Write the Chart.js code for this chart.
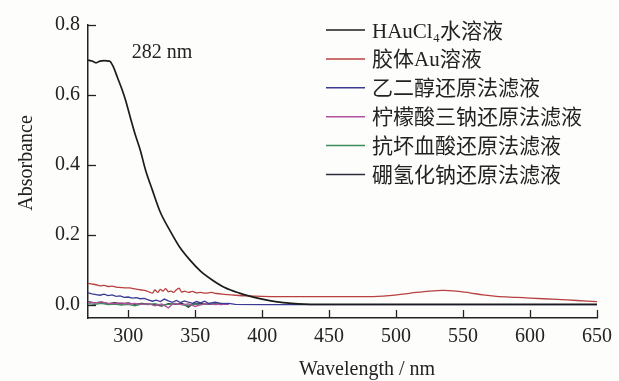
<!DOCTYPE html>
<html>
<head>
<meta charset="utf-8">
<script src="https://cdn.jsdelivr.net/npm/chart.js@4.4.0/dist/chart.umd.min.js"></script>
<style>
  html, body { margin: 0; padding: 0; background: #fdfdfb; }
  #wrap { width: 619px; height: 381px; }
</style>
</head>
<body>
<div id="wrap"><canvas id="chart" width="619" height="381"></canvas></div>
<script>
// series names (legend)
const seriesNames = ['HAuCl₄水溶液', '胶体Au溶液', '乙二醇还原法滤液', '柠檬酸三钠还原法滤液', '抗坏血酸还原法滤液', '硼氢化钠还原法滤液'];
const seriesColors = ['#1c1c1c', '#b8403f', '#3b3b95', '#b4529f', '#3d8a5a', '#2c2c3a'];

// HAuCl4 solution
const wlHAuCl4 = [270, 273, 276, 279, 282, 286, 289, 292, 295, 298, 302, 305, 309, 313, 318, 324, 331, 338, 346, 354, 363, 372, 383, 392, 400, 410, 422, 440, 500, 560, 650];
const absHAuCl4 = [0.700, 0.697, 0.692, 0.697, 0.698, 0.697, 0.680, 0.650, 0.620, 0.586, 0.530, 0.490, 0.443, 0.385, 0.329, 0.265, 0.214, 0.168, 0.129, 0.097, 0.071, 0.050, 0.034, 0.024, 0.017, 0.010, 0.005, 0.002, 0.002, 0.002, 0.002];

// colloidal Au
const wlColloid = [270, 273, 276, 279, 282, 285, 288, 291, 295, 298, 301, 304, 307, 310, 313, 316, 318, 320, 322, 324, 326, 328, 330, 332, 334, 336, 338, 340, 342, 345, 348, 351, 354, 358, 362, 366, 370, 380, 390, 400, 420, 450, 480, 495, 505, 515, 525, 535, 545, 555, 565, 575, 590, 600, 620, 635, 650];
const absColloid = [0.062, 0.060, 0.058, 0.055, 0.056, 0.053, 0.054, 0.051, 0.050, 0.049, 0.049, 0.047, 0.045, 0.043, 0.041, 0.037, 0.034, 0.043, 0.036, 0.045, 0.040, 0.047, 0.038, 0.040, 0.036, 0.044, 0.048, 0.037, 0.040, 0.036, 0.039, 0.035, 0.036, 0.034, 0.036, 0.033, 0.031, 0.028, 0.026, 0.025, 0.024, 0.024, 0.024, 0.027, 0.031, 0.036, 0.040, 0.042, 0.040, 0.035, 0.029, 0.025, 0.022, 0.020, 0.016, 0.013, 0.010];

// ethylene glycol reduction filtrate
const wlGlycol = [270, 273, 276, 279, 282, 285, 288, 291, 294, 297, 300, 303, 306, 309, 312, 315, 318, 321, 324, 327, 330, 333, 336, 339, 342, 345, 348, 351, 354, 357, 360, 365, 370, 375, 380, 400, 450, 500, 550, 600, 650];
const absGlycol = [0.035, 0.032, 0.030, 0.028, 0.031, 0.027, 0.029, 0.025, 0.026, 0.022, 0.023, 0.020, 0.021, 0.018, 0.019, 0.015, 0.011, 0.014, 0.010, 0.017, 0.012, 0.008, 0.013, 0.007, 0.012, 0.008, 0.005, 0.010, 0.006, 0.011, 0.005, 0.008, 0.004, 0.005, 0.002, 0.001, 0.001, 0.001, 0.001, 0.001, 0.001];

// trisodium citrate reduction filtrate
const wlCitrate = [270, 275, 280, 285, 290, 295, 300, 305, 310, 315, 320, 325, 330, 333, 336, 340, 345, 350, 355, 360, 365, 370, 375];
const absCitrate = [0.008, 0.006, 0.009, 0.005, 0.004, 0.006, 0.003, 0.005, 0.002, 0.004, -0.002, 0.003, -0.008, 0.002, 0.004, 0.001, 0.003, -0.004, 0.002, 0.004, 0.001, 0.003, 0.002];

// ascorbic acid reduction filtrate
const wlAscorbic = [270, 275, 280, 285, 290, 295, 300, 305, 310, 315, 320, 325, 330, 335, 340, 345, 350, 355, 360, 365, 370, 375];
const absAscorbic = [0.004, 0.002, 0.005, 0.001, 0.003, 0.000, 0.002, -0.002, 0.003, 0.001, 0.004, -0.001, 0.002, 0.005, 0.001, -0.002, 0.003, 0.001, 0.004, 0.002, 0.005, 0.003];

// sodium borohydride reduction filtrate
const wlBorohydride = [270, 275, 280, 285, 290, 295, 300, 305, 310, 315, 320, 325, 330, 335, 340, 345, 348, 355, 360, 365, 370];
const absBorohydride = [0.010, 0.006, 0.008, 0.004, 0.007, 0.003, 0.006, 0.002, 0.005, 0.003, 0.001, -0.003, 0.004, 0.002, 0.005, -0.006, 0.003, 0.004, 0.002, 0.003, 0.001];

const xTicks = [300, 350, 400, 450, 500, 550, 600, 650];
const yTicks = [0.0, 0.2, 0.4, 0.6, 0.8];
const peakLabel = '282 nm';
const xTitle = 'Wavelength / nm';
const yTitle = 'Absorbance';

const serif = "'Liberation Serif', 'Times New Roman', serif";
const legendFont = "21px 'Liberation Serif', 'Noto Sans CJK SC', serif";

function pts(xs, ys) {
  return xs.map((x, i) => ({ x: x, y: ys[i] }));
}

const allX = [wlHAuCl4, wlColloid, wlGlycol, wlCitrate, wlAscorbic, wlBorohydride];
const allY = [absHAuCl4, absColloid, absGlycol, absCitrate, absAscorbic, absBorohydride];

const datasets = seriesNames.map((name, i) => ({
  label: name,
  data: pts(allX[i], allY[i]),
  borderColor: seriesColors[i],
  borderWidth: i === 0 ? 1.7 : 1.3,
  pointRadius: 0,
  fill: false,
  cubicInterpolationMode: i < 2 ? 'monotone' : 'default',
  tension: 0
}));

// ticks pointing inwards, text labels, legend
const decor = {
  id: 'decor',
  afterDraw(chart) {
    const ctx = chart.ctx;
    const xs = chart.scales.x, ys = chart.scales.y;
    const area = chart.chartArea;
    ctx.save();
    ctx.strokeStyle = '#222';
    ctx.lineWidth = 1.3;
    xTicks.forEach(v => {
      const px = Math.round(xs.getPixelForValue(v)) + 0.5;
      ctx.beginPath();
      ctx.moveTo(px, area.bottom);
      ctx.lineTo(px, area.bottom - 8);
      ctx.stroke();
    });
    yTicks.forEach(v => {
      const py = Math.round(ys.getPixelForValue(v)) + 0.5;
      ctx.beginPath();
      ctx.moveTo(area.left, py);
      ctx.lineTo(area.left + 8, py);
      ctx.stroke();
    });

    ctx.fillStyle = '#222';
    ctx.font = '20px ' + serif;
    ctx.textBaseline = 'middle';
    ctx.textAlign = 'center';
    ctx.fillText(peakLabel, 162, 53);
    ctx.fillText(xTitle, 367, 370);

    ctx.save();
    ctx.translate(27, 163);
    ctx.rotate(-Math.PI / 2);
    ctx.fillText(yTitle, 0, 0);
    ctx.restore();

    // legend
    ctx.textAlign = 'left';
    ctx.font = legendFont;
    seriesNames.forEach((name, i) => {
      const y = 30 + i * 28.9;
      ctx.strokeStyle = seriesColors[i];
      ctx.lineWidth = 1.5;
      ctx.beginPath();
      ctx.moveTo(326, y);
      ctx.lineTo(365, y);
      ctx.stroke();
      ctx.fillStyle = '#222';
      ctx.fillText(name, 372, y + 2);
    });
    ctx.restore();
  }
};

new Chart(document.getElementById('chart'), {
  type: 'line',
  data: { datasets: datasets },
  options: {
    responsive: false,
    animation: false,
    devicePixelRatio: 1,
    layout: { padding: { top: 25, right: 18, bottom: 0, left: 0 } },
    plugins: { legend: { display: false }, tooltip: { enabled: false } },
    scales: {
      x: {
        type: 'linear',
        min: 270,
        max: 650,
        afterBuildTicks: s => { s.ticks = xTicks.map(v => ({ value: v })); },
        afterFit: s => { s.height = 63; },
        grid: { display: false, drawTicks: false },
        border: { display: true, color: '#222', width: 1.5 },
        ticks: { color: '#222', padding: 7, font: { family: serif, size: 20 }, callback: v => String(v), maxRotation: 0 }
      },
      y: {
        type: 'linear',
        min: -0.037,
        max: 0.8,
        afterBuildTicks: s => { s.ticks = yTicks.map(v => ({ value: v })); },
        afterFit: s => { s.width = 88; },
        grid: { display: false, drawTicks: false },
        border: { display: true, color: '#222', width: 1.5 },
        ticks: { color: '#222', padding: 8, font: { family: serif, size: 20 }, callback: v => v.toFixed(1) }
      }
    }
  },
  plugins: [decor]
});
</script>
</body>
</html>
